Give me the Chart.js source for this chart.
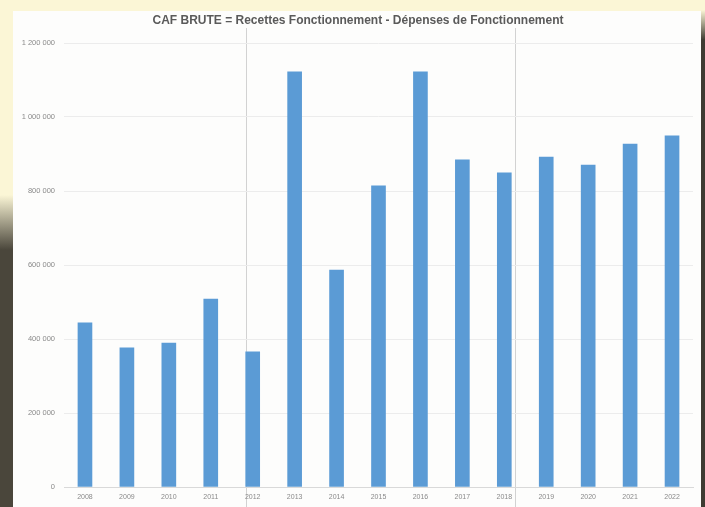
<!DOCTYPE html>
<html>
<head>
<meta charset="utf-8">
<script src="https://cdn.jsdelivr.net/npm/chart.js@4/dist/chart.umd.min.js"></script>
<style>
  html, body { margin: 0; padding: 0; background: #fbf6d6; }
  #wrap { width: 705px; height: 507px; position: relative; }
</style>
</head>
<body>
<div id="wrap"><canvas id="c" width="705" height="507"></canvas></div>
<script>
const titleText = "CAF BRUTE = Recettes Fonctionnement - Dépenses de Fonctionnement";
const years = ["2008","2009","2010","2011","2012","2013","2014","2015","2016","2017","2018","2019","2020","2021","2022"];
const cafBrute = [444000, 376000, 389000, 508000, 365000, 1122000, 586000, 814000, 1122000, 884000, 849000, 892000, 870000, 927000, 949000];
const yTicks = [0, 200000, 400000, 600000, 800000, 1000000, 1200000];

function fmt(v) {
  return String(Math.round(v)).replace(/\B(?=(\d{3})+(?!\d))/g, " ");
}

const backdrop = {
  id: "backdrop",
  afterLayout(chart) {
    if (chart.titleBlock) {
      chart.titleBlock.left += 11.5;
      chart.titleBlock.right += 11.5;
    }
  },
  beforeDraw(chart) {
    const ctx = chart.ctx;
    ctx.save();
    ctx.fillStyle = "#fbf6d6";
    ctx.fillRect(0, 0, 705, 507);
    const g = ctx.createLinearGradient(0, 195, 0, 250);
    g.addColorStop(0, "#fbf6d6");
    g.addColorStop(1, "#4a463b");
    ctx.fillStyle = g;
    ctx.fillRect(0, 195, 13, 312);
    const g2 = ctx.createLinearGradient(0, 10, 0, 40);
    g2.addColorStop(0, "#fbf6d6");
    g2.addColorStop(1, "#3e3b32");
    ctx.fillStyle = g2;
    ctx.fillRect(701, 10, 4, 497);
    ctx.fillStyle = "#fdfdfc";
    ctx.fillRect(13, 11, 688, 496);
    ctx.strokeStyle = "#d2d2d2";
    ctx.lineWidth = 1;
    ctx.beginPath();
    ctx.moveTo(246.5, 28); ctx.lineTo(246.5, 507);
    ctx.moveTo(515.5, 28); ctx.lineTo(515.5, 507);
    ctx.stroke();
    ctx.restore();
  }
};

new Chart(document.getElementById("c"), {
  type: "bar",
  data: {
    labels: years,
    datasets: [{
      label: "CAF BRUTE",
      data: cafBrute,
      backgroundColor: "#5b9bd5",
      borderWidth: 0,
      barThickness: 14
    }]
  },
  options: {
    responsive: false,
    animation: false,
    layout: { padding: { left: 0, right: 12, top: 0, bottom: 0 } },
    plugins: {
      legend: { display: false },
      tooltip: { enabled: false },
      title: {
        display: true,
        text: titleText,
        color: "#5a5a5a",
        font: { family: "Liberation Sans", size: 12, weight: "bold", lineHeight: 1.2 },
        padding: { top: 13.5, bottom: 15.1 }
      }
    },
    scales: {
      x: {
        grid: { display: false, drawTicks: false },
        border: { display: true, color: "#d9d9d9" },
        ticks: { color: "#8a8a8a", font: { family: "Liberation Sans", size: 7 }, padding: 6, maxRotation: 0, autoSkip: false },
        afterFit(scale) { scale.height = 20; }
      },
      y: {
        min: 0,
        max: 1200000,
        afterBuildTicks(scale) { scale.ticks = yTicks.map(v => ({ value: v })); },
        grid: { color: "#ececec", drawTicks: false },
        border: { display: false },
        ticks: {
          color: "#8a8a8a",
          font: { family: "Liberation Sans", size: 7.5 },
          padding: 9,
          callback: (v) => fmt(v)
        },
        afterFit(scale) { scale.width = 64; }
      }
    }
  },
  plugins: [backdrop]
});
</script>
</body>
</html>
